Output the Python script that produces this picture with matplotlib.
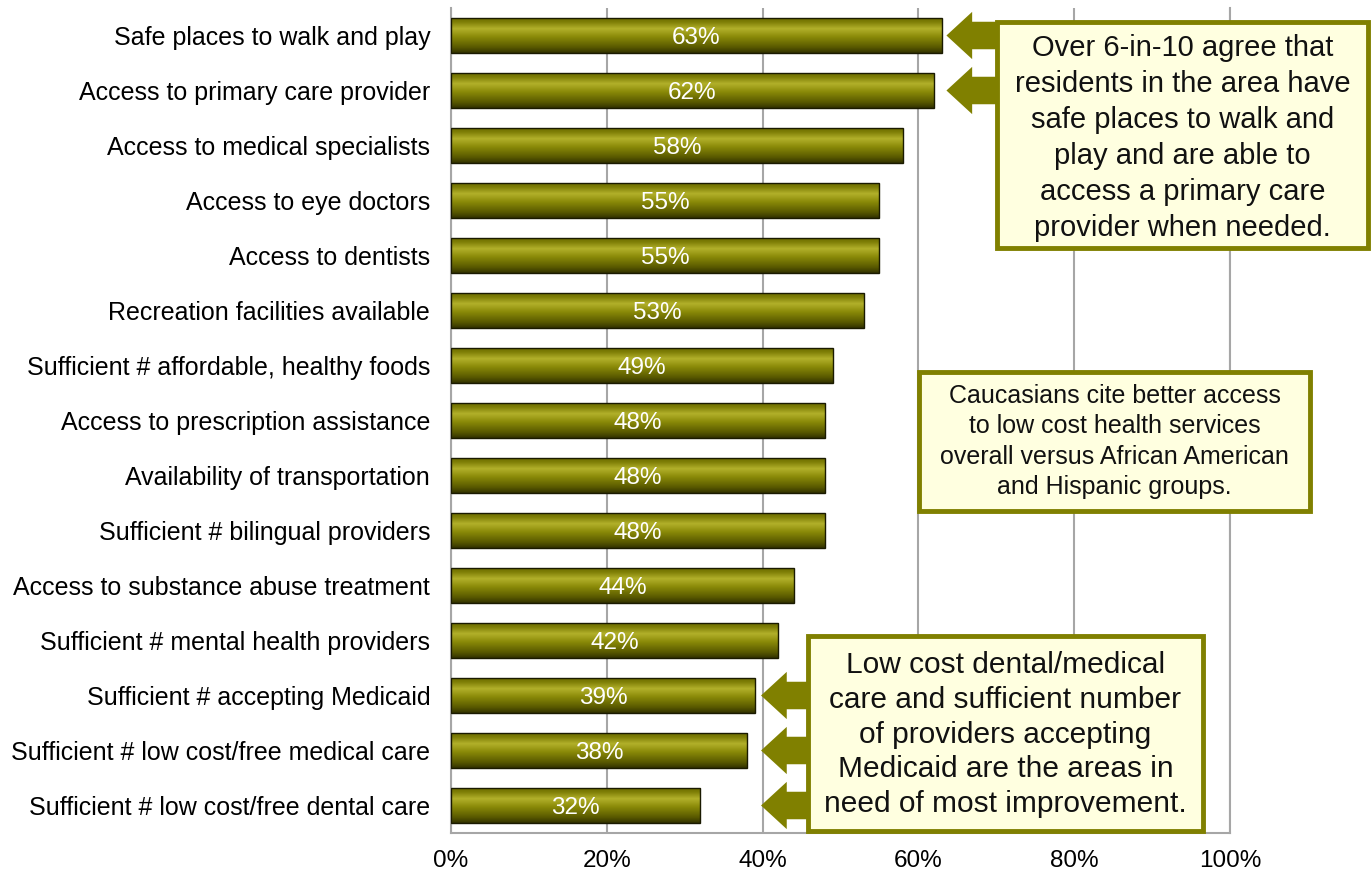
import numpy as np
import matplotlib
matplotlib.use("Agg")
import matplotlib.pyplot as plt
from matplotlib.colors import LinearSegmentedColormap
from matplotlib.patches import Rectangle, FancyArrow

plt.rcParams['font.family'] = ['Liberation Sans', 'DejaVu Sans']

labels = ["Safe places to walk and play",
          "Access to primary care provider",
          "Access to medical specialists",
          "Access to eye doctors",
          "Access to dentists",
          "Recreation facilities available",
          "Sufficient # affordable, healthy foods",
          "Access to prescription assistance",
          "Availability of transportation",
          "Sufficient # bilingual providers",
          "Access to substance abuse treatment",
          "Sufficient # mental health providers",
          "Sufficient # accepting Medicaid",
          "Sufficient # low cost/free medical care",
          "Sufficient # low cost/free dental care"]
values = [63, 62, 58, 55, 55, 53, 49, 48, 48, 48, 44, 42, 39, 38, 32]
xticks = [0, 20, 40, 60, 80, 100]

note_top = ("Over 6-in-10 agree that\nresidents in the area have\nsafe places to walk and\n"
            "play and are able to\naccess a primary care\nprovider when needed.")
note_mid = ("Caucasians cite better access\nto low cost health services\n"
            "overall versus African American\nand Hispanic groups.")
note_low = ("Low cost dental/medical\ncare and sufficient number\nof providers accepting\n"
            "Medicaid are the areas in\nneed of most improvement.")

olive = "#808000"
W, H = 1371, 871
fig = plt.figure(figsize=(W / 100, H / 100), dpi=100)
ax = fig.add_axes([451 / W, 1 - 833 / H, (1230 - 451) / W, (833 - 8) / H])

# shaded bar fill, top to bottom
bar_cmap = LinearSegmentedColormap.from_list(
    "olivebar", [(0.0, "#6a6a00"), (0.12, "#7c7c05"), (0.32, "#b2b02a"),
                 (0.55, "#8a8a08"), (0.85, "#585800"), (1.0, "#333300")])
grad = np.linspace(0, 1, 64).reshape(-1, 1)

y = np.arange(len(labels))
h = 0.65
bars = ax.barh(y, values, height=h, color="none", edgecolor="#1a1a00",
               linewidth=1.0, zorder=3)
for b, yy, v in zip(bars, y, values):
    im = ax.imshow(grad, cmap=bar_cmap, aspect="auto", origin="upper",
                   extent=[0, v, yy + h / 2, yy - h / 2], zorder=2,
                   interpolation="bilinear")
    im.set_clip_path(b)
    ax.text(v / 2, yy + 0.04, f"{v}%", color="white", ha="center",
            va="center", fontsize=17.5, zorder=4)

ax.set_xlim(0, 100)
ax.set_ylim(len(labels) - 0.5, -0.5)
ax.set_xticks(xticks)
ax.set_xticklabels([f"{t}%" for t in xticks], fontsize=17.5)
ax.set_yticks(y)
ax.set_yticklabels(labels, fontsize=18)
ax.tick_params(length=0)
ax.tick_params(axis="y", pad=15)
ax.tick_params(axis="x", pad=12)
ax.grid(axis="x", color="#a6a6a6", linewidth=1.5, zorder=0)
ax.set_axisbelow(True)
ax.spines["top"].set_visible(False)
for s in ["left", "bottom", "right"]:
    ax.spines[s].set_color("#a6a6a6")
    ax.spines[s].set_linewidth(1.5)


def px_box(x0, y0, x1, y1, text, fs, ls, dy=0):
    r = Rectangle((x0 / W, 1 - y1 / H), (x1 - x0) / W, (y1 - y0) / H,
                  transform=fig.transFigure, facecolor="#ffffe0",
                  edgecolor=olive, linewidth=3.5, zorder=10)
    fig.patches.append(r)
    fig.text((x0 + x1) / 2 / W, 1 - ((y0 + y1) / 2 + dy) / H, text,
             ha="center", va="center", fontsize=fs, color="#111111",
             linespacing=ls, zorder=11)


def arrow(tip_x, base_x, yy):
    a = FancyArrow(base_x, yy, tip_x - base_x, 0, width=0.5, head_width=0.86,
                   head_length=3.3, length_includes_head=True, color=olive,
                   linewidth=0, zorder=6, clip_on=False)
    ax.add_patch(a)


# arrows from the callouts to their bars
for i in (0, 1):
    arrow(max(values[0], values[1]) + 0.6, 71.5, i)
for i in (12, 13, 14):
    arrow(values[12] + 0.8, 47.0, i)

px_box(997, 22, 1368, 248, note_top, 21, 1.37, dy=3)
px_box(919, 372, 1310, 511, note_mid, 18, 1.35)
px_box(808, 636, 1203, 831, note_low, 21.5, 1.31, dy=1)

fig.savefig("out.png", dpi=100)
